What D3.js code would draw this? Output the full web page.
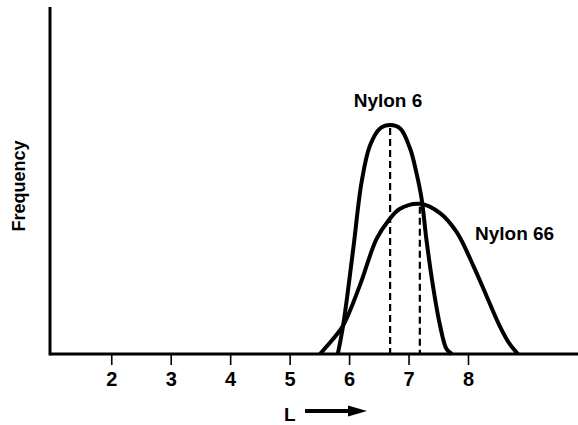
<!DOCTYPE html>
<html>
<head>
<meta charset="utf-8">
<script src="https://cdn.jsdelivr.net/npm/d3@7"></script>
<style>
  html, body { margin: 0; padding: 0; background: #fff; }
  svg { display: block; }
  text { font-family: "Liberation Sans", Arial, Helvetica, sans-serif; font-weight: bold; fill: #000; }
</style>
</head>
<body>
<svg id="chart" width="578" height="425"></svg>
<script>
// Molecular length L on the horizontal axis
const tickValues = [2, 3, 4, 5, 6, 7, 8];

// Frequency distributions (relative units) sampled along L
const nylon6L    = [5.81, 5.90, 6.07, 6.21, 6.35, 6.52, 6.69, 6.86, 7.03, 7.13, 7.22, 7.30, 7.41, 7.53, 7.64, 7.73];
const nylon6F    = [0,    8.2,  30.3, 49.5, 60.0, 65.0, 66.0, 65.0, 59.0, 52.4, 44.7, 33.1, 19.7, 8.2,  1.4,  0];
const nylon66L   = [5.51, 5.73, 5.90, 6.18, 6.46, 6.66, 6.85, 7.19, 7.53, 7.81, 8.09, 8.31, 8.53, 8.70, 8.84];
const nylon66F   = [0,    4.3,  8.2,  19.7, 33.1, 38.4, 41.8, 43.3, 40.6, 35.1, 25.4, 16.8, 8.2,  2.9,  0];

// Peak positions marked by dashed drop lines
const peakL = [6.69, 7.19];
const peakF = [66.0, 43.3];

const seriesNames = ["Nylon 6", "Nylon 66"];

const svg = d3.select("#chart");

const x = d3.scaleLinear().domain([0.97, 9.85]).range([50, 578]);
const y = d3.scaleLinear().domain([0, 100]).range([354, 7]);

// dashed drop lines at the peaks
svg.selectAll("line.peak")
  .data(peakL.map((l, i) => ({ l, f: peakF[i] })))
  .join("line")
  .attr("class", "peak")
  .attr("x1", d => x(d.l)).attr("x2", d => x(d.l))
  .attr("y1", d => y(d.f) + 3).attr("y2", y(0))
  .attr("stroke", "#000")
  .attr("stroke-width", 2.2)
  .attr("stroke-dasharray", "7,4");

// distribution curves
const line = d3.line()
  .x(d => x(d[0]))
  .y(d => y(d[1]))
  .curve(d3.curveCatmullRom.alpha(0.5));

const curves = [
  d3.zip(nylon6L, nylon6F),
  d3.zip(nylon66L, nylon66F)
];

svg.selectAll("path.curve")
  .data(curves)
  .join("path")
  .attr("class", "curve")
  .attr("d", line)
  .attr("fill", "none")
  .attr("stroke", "#000")
  .attr("stroke-width", 4)
  .attr("stroke-linejoin", "round");

// x axis ticks and labels
const xAxis = d3.axisBottom(x)
  .tickValues(tickValues)
  .tickFormat(d3.format("d"))
  .tickSize(11)
  .tickPadding(7);

const gx = svg.append("g")
  .attr("transform", `translate(0,${y(0)})`)
  .call(xAxis);
gx.select(".domain").remove();
gx.selectAll(".tick line").attr("stroke", "#000").attr("stroke-width", 1.6);
gx.selectAll(".tick text")
  .attr("font-size", 20)
  .attr("font-family", "'Liberation Sans', Arial, sans-serif")
  .attr("font-weight", "bold")
  .attr("fill", "#000");

// axis lines
svg.append("line")
  .attr("x1", x.range()[0]).attr("x2", x.range()[1])
  .attr("y1", y(0)).attr("y2", y(0))
  .attr("stroke", "#000").attr("stroke-width", 3);
svg.append("line")
  .attr("x1", x.range()[0]).attr("x2", x.range()[0])
  .attr("y1", y.range()[1]).attr("y2", y(0) + 1.5)
  .attr("stroke", "#000").attr("stroke-width", 3);

// series labels
svg.append("text")
  .attr("x", 388).attr("y", 107)
  .attr("text-anchor", "middle")
  .attr("font-size", 19)
  .text(seriesNames[0]);
svg.append("text")
  .attr("x", 475).attr("y", 240)
  .attr("font-size", 19)
  .text(seriesNames[1]);

// y axis title
svg.append("text")
  .attr("transform", "translate(25,186) rotate(-90)")
  .attr("text-anchor", "middle")
  .attr("font-size", 18)
  .text("Frequency");

// x axis title with arrow
svg.append("text")
  .attr("x", 284).attr("y", 421)
  .attr("font-size", 19)
  .text("L");
svg.append("line")
  .attr("x1", 305).attr("x2", 352)
  .attr("y1", 411).attr("y2", 411)
  .attr("stroke", "#000").attr("stroke-width", 4);
svg.append("path")
  .attr("d", d3.line()([[348, 405.5], [367, 411], [348, 416.5]]))
  .attr("fill", "#000");
</script>
</body>
</html>
